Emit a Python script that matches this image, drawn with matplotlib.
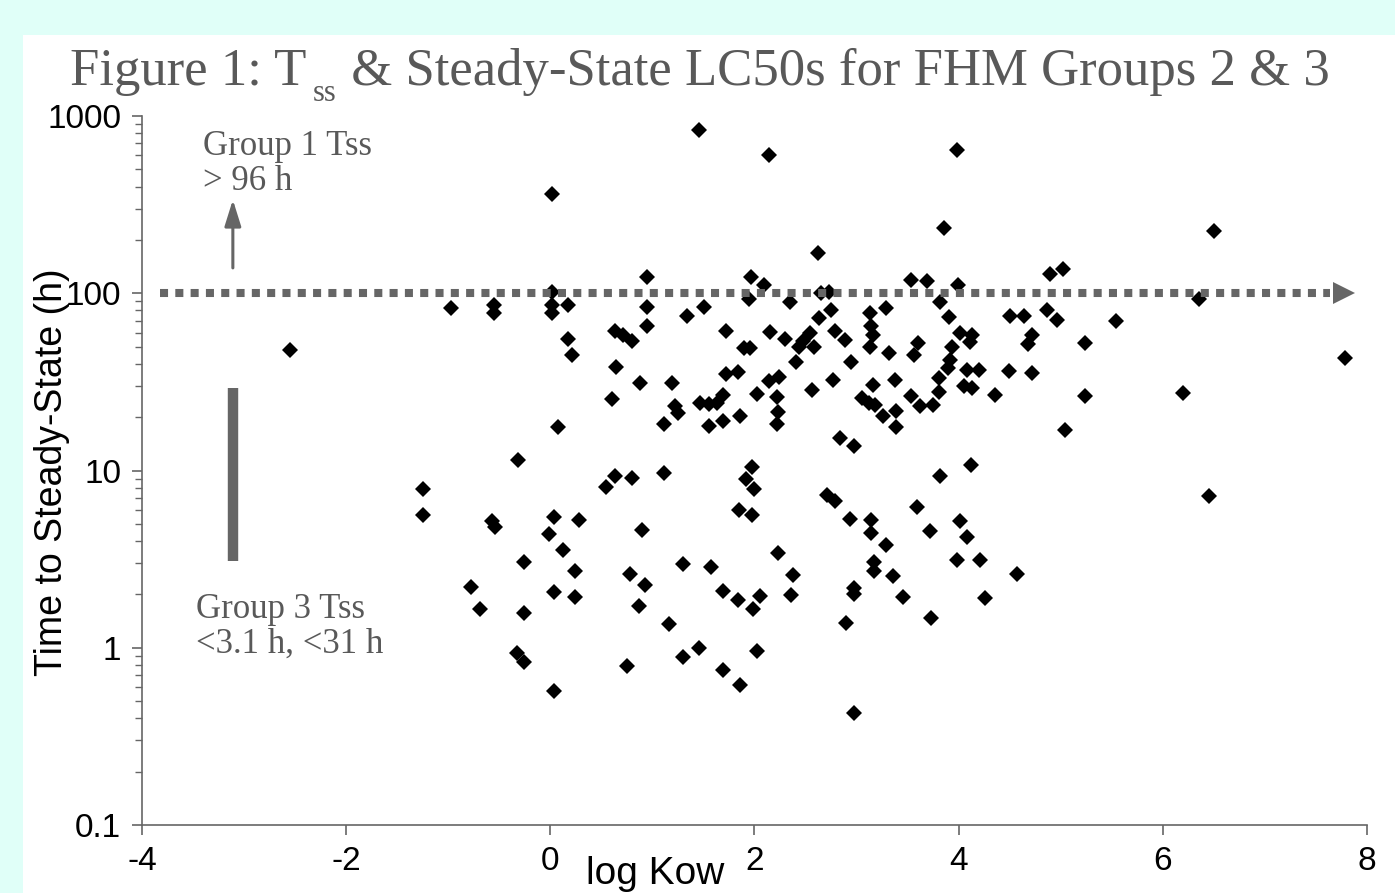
import matplotlib
matplotlib.use("Agg")
import matplotlib.pyplot as plt
from matplotlib.patches import Rectangle
from matplotlib.ticker import FixedLocator, FixedFormatter, LogLocator, NullFormatter

plt.rcParams['axes.unicode_minus'] = False

# ---- data ----
log_kow = [1.46, 2.14, 3.98, 0.02, 3.86, 6.50, 2.62, -2.55, 7.78, 0.95,
           0.02, -0.97, -0.55, -0.55, 0.02, 0.02, 0.17, 0.95, 1.51, 1.34,
           1.97, 1.95, 0.95, 1.72, 0.63, 0.71, 0.80, 0.17, 0.21, 1.90,
           1.96, 0.64, 1.72, 1.84, 0.88, 1.19, 2.09, 3.53, 3.69, 3.99,
           4.89, 2.35, 2.65, 2.73, 2.75, 2.63, 3.82, 3.91, 4.50, 4.64,
           4.87, 3.13, 3.29, 3.14, 3.16, 3.13, 2.15, 2.30, 2.54, 2.48,
           2.58, 2.44, 2.79, 2.89, 3.32, 3.60, 3.56, 3.93, 4.01, 4.13,
           4.11, 4.72, 4.68, 2.41, 2.95, 3.92, 3.90, 4.08, 4.20, 4.49,
           4.72, 2.14, 2.24, 2.77, 5.02, 6.35, 4.96, 5.54, 5.24, 5.24,
           6.20, 5.04, 6.45, 0.60, 1.22, 1.25, 1.11, 1.47, 1.55, 1.63,
           1.69, 1.55, 1.69, 0.08, -0.32, -1.25, -1.25, 0.63, 0.55, 0.80,
           1.11, -0.57, -0.54, 0.04, 0.28, -0.01, 0.12, 0.90, -0.26, 0.24,
           -0.78, -0.69, -0.26, 0.04, 0.24, 0.78, 0.93, 0.87, 1.30, 1.57,
           1.69, 1.16, -0.33, -0.26, 0.04, 0.75, 1.30, 1.46, 1.69, 2.02,
           2.22, 2.23, 2.22, 2.56, 1.86, 3.16, 3.38, 3.05, 3.12, 3.18,
           3.26, 3.39, 3.39, 3.53, 3.62, 3.75, 3.81, 3.81, 4.05, 4.13,
           4.36, 2.84, 2.97, 1.98, 1.92, 2.00, 3.82, 4.12, 2.71, 2.79,
           1.85, 1.98, 2.94, 3.14, 3.14, 3.29, 3.59, 3.72, 4.01, 4.08,
           3.98, 4.21, 4.57, 2.23, 2.38, 2.36, 1.84, 2.05, 1.99, 3.17,
           3.17, 3.36, 2.97, 2.97, 3.45, 4.26, 3.73, 2.90, 2.02, 1.86,
           2.97]

tss_h = [830, 604, 645, 364, 234, 225, 169, 48, 43, 123,
         102, 82.5, 86, 77, 86, 77, 86, 84, 84, 74,
         124, 93, 65, 61, 61.5, 58, 53.5, 55, 44.6, 49,
         49, 38.6, 35.2, 35.8, 31, 31, 112, 119, 117, 112,
         129, 89, 100, 102, 80.7, 72.4, 89, 73, 74, 74,
         80.5, 77, 82.5, 65, 58.3, 50, 60.4, 55.4, 59.6, 53.5,
         49.7, 50, 61, 54.7, 46, 52.4, 45, 49.7, 59.6, 58.3,
         53, 58.3, 51.7, 41.2, 41.2, 42.2, 37.8, 37, 37, 36.2,
         35.5, 31.8, 33.5, 32.5, 137, 92.7, 71, 70, 52.4, 26.4,
         27.4, 17, 7.14, 25.3, 23.2, 21.1, 18.4, 24, 23.8, 24,
         26.7, 17.9, 18.9, 17.7, 11.4, 7.89, 5.63, 9.34, 8.02, 9.06,
         9.67, 5.16, 4.83, 5.5, 5.27, 4.40, 3.57, 4.59, 3.04, 2.70,
         2.20, 1.65, 1.57, 2.05, 1.93, 2.61, 2.25, 1.73, 2.98, 2.84,
         2.08, 1.37, 0.933, 0.826, 0.572, 0.79, 0.886, 1.0, 0.751, 27.1,
         26.0, 21.5, 18.4, 28.6, 20.2, 30.5, 32.5, 25.6, 24, 23.5,
         20.2, 21.8, 17.7, 26.4, 23, 23.5, 27.6, 33.2, 29.8, 29.2,
         26.7, 15.2, 13.7, 10.5, 8.98, 7.86, 9.26, 10.7, 7.3, 6.69,
         6.0, 5.63, 5.32, 5.27, 4.44, 3.81, 6.19, 4.53, 5.21, 4.19,
         3.14, 3.14, 2.61, 3.42, 2.58, 1.99, 1.87, 1.95, 1.65, 3.03,
         2.70, 2.53, 2.17, 2.02, 1.93, 1.9, 1.47, 1.38, 0.96, 0.618,
         0.431]

x_ticks = [-4, -2, 0, 2, 4, 6, 8]
y_ticks = [0.1, 1, 10, 100, 1000]
y_tick_labels = ["0.1", "1", "10", "100", "1000"]

line_y = 100
line_x = [-3.82, 7.64]
arrow_tip_x = 7.775
group1_arrow_x = -3.11
group1_arrow_y = [139, 337]
group3_bar_x = -3.11
group3_bar_y = [3.1, 29.3]

title_parts = ["Figure 1: T", "ss", " & Steady-State LC50s for FHM Groups 2 & 3"]

# ---- figure ----
W, H = 1395, 893
fig = plt.figure(figsize=(W / 100, H / 100), dpi=100)
fig.patch.set_facecolor('#E0FFF8')
fig.patches.append(Rectangle((23 / W, 0), 1 - 23 / W, 1 - 35 / H,
                             transform=fig.transFigure, facecolor='white',
                             edgecolor='none', zorder=-10))

ax = fig.add_axes([142 / W, 1 - 825 / H, (1367 - 142) / W, (825 - 116) / H])
ax.set_zorder(2)
ax.set_facecolor('none')
ax.set_yscale('log')
ax.set_xlim(-4, 8)
ax.set_ylim(0.1, 1000)

gray = '#666666'
for s in ['top', 'right']:
    ax.spines[s].set_visible(False)
for s in ['left', 'bottom']:
    ax.spines[s].set_color(gray)
    ax.spines[s].set_linewidth(1.2)

ax.xaxis.set_major_locator(FixedLocator(x_ticks))
ax.set_xticklabels([str(v) for v in x_ticks])
ax.yaxis.set_major_locator(FixedLocator(y_ticks))
ax.yaxis.set_major_formatter(FixedFormatter(y_tick_labels))
ax.yaxis.set_minor_locator(LogLocator(base=10, subs=range(2, 10)))
ax.yaxis.set_minor_formatter(NullFormatter())
ax.tick_params(axis='both', which='major', direction='out', length=7.5,
               width=1.2, color=gray, pad=7.5, labelsize=24)
ax.tick_params(axis='y', which='minor', direction='out', length=5,
               width=1.0, color=gray)
for lab in ax.get_xticklabels() + ax.get_yticklabels():
    lab.set_fontfamily('Liberation Sans')

# scatter
ax.plot(log_kow, tss_h, linestyle='none', marker='D', markersize=8.3,
        markerfacecolor='black', markeredgewidth=0, color='black', zorder=3,
        clip_on=False)

# dotted threshold line + arrowhead
ax.plot(line_x, [line_y, line_y], color=gray, lw=5.8,
        linestyle=(0, (1.0, 0.9)), dash_capstyle='butt', zorder=4)
ax.plot([arrow_tip_x], [line_y], marker='>', markersize=16, color=gray,
        markeredgewidth=0, zorder=4, clip_on=False)

# group 1 arrow
ax.annotate('', xy=(group1_arrow_x, group1_arrow_y[1]),
            xytext=(group1_arrow_x, group1_arrow_y[0]),
            arrowprops=dict(arrowstyle='-|>,head_length=0.8,head_width=0.25',
                            color=gray, lw=2.2, shrinkA=0, shrinkB=0,
                            mutation_scale=20), zorder=4)

# group 3 bar
ax.plot([group3_bar_x, group3_bar_x], group3_bar_y, color=gray, lw=7.5,
        solid_capstyle='butt', zorder=4)

serif = 'Liberation Serif'
tcol = '#595959'
ax.text(-3.40, 604, "Group 1 Tss", family=serif, fontsize=25, color=tcol,
        va='baseline', ha='left')
ax.text(-3.40, 384, "> 96 h", family=serif, fontsize=25, color=tcol,
        va='baseline', ha='left')
ax.text(-3.47, 1.476, "Group 3 Tss", family=serif, fontsize=25, color=tcol,
        va='baseline', ha='left')
ax.text(-3.47, 0.937, "<3.1 h, <31 h", family=serif, fontsize=25, color=tcol,
        va='baseline', ha='left')

# title built from pieces (subscript lowered like the reference)
renderer = fig.canvas.get_renderer()
tx0 = 70
t1 = fig.text(tx0 / W, 1 - 85 / H, title_parts[0], family=serif, fontsize=38,
              color=tcol, ha='left', va='baseline')
w1 = t1.get_window_extent(renderer).width
t2 = fig.text((tx0 + w1 + 6) / W, 1 - 101 / H, title_parts[1], family=serif,
              fontsize=22, color=tcol, ha='left', va='baseline')
w2 = t2.get_window_extent(renderer).width
fig.text((tx0 + w1 + 6 + w2 + 2) / W, 1 - 85 / H, title_parts[2], family=serif,
         fontsize=38, color=tcol, ha='left', va='baseline')

fig.text(655 / W, 1 - 884 / H, "log Kow", family='Liberation Sans',
         fontsize=28, color='black', ha='center', va='baseline')
fig.text(52 / W, 1 - 472 / H, "Time to Steady-State (h)",
         family='Liberation Sans', fontsize=27, color='black',
         rotation=90, ha='center', va='center')

fig.savefig('out.png', dpi=100, facecolor=fig.get_facecolor())
